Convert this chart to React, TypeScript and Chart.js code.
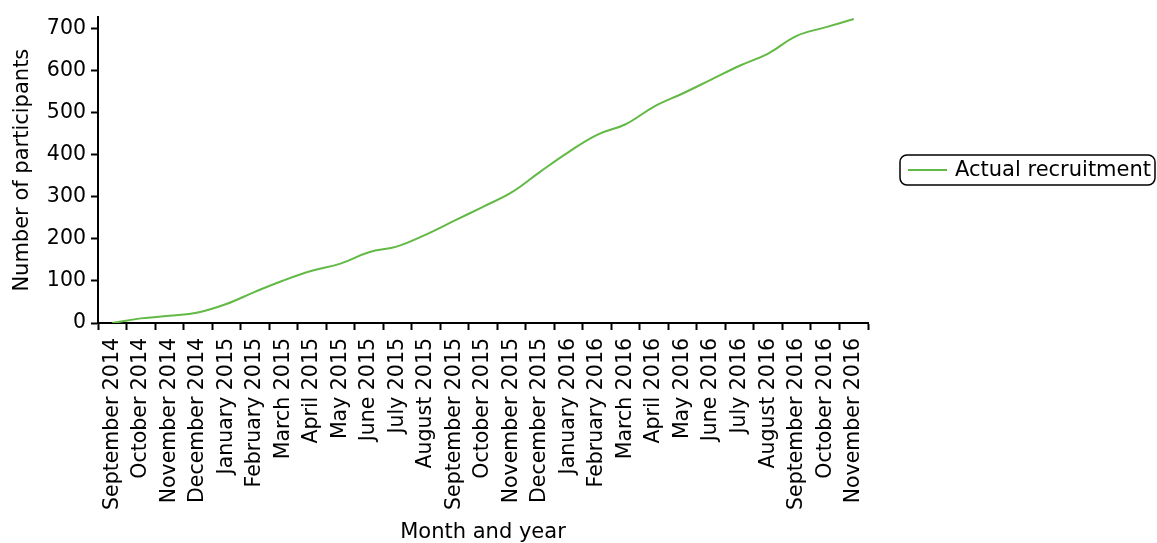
import React, { useEffect, useRef } from "react";
import { Chart, registerables } from "chart.js";

Chart.register(...registerables);

const months: string[] = [
  "September 2014", "October 2014", "November 2014", "December 2014",
  "January 2015", "February 2015", "March 2015", "April 2015", "May 2015",
  "June 2015", "July 2015", "August 2015", "September 2015", "October 2015",
  "November 2015", "December 2015", "January 2016", "February 2016",
  "March 2016", "April 2016", "May 2016", "June 2016", "July 2016",
  "August 2016", "September 2016", "October 2016", "November 2016",
];

const actualRecruitment: number[] = [
  0, 11, 17, 25, 45, 74, 101, 124, 141, 168, 182, 210, 243, 276, 310, 359,
  406, 447, 472, 514, 545, 578, 611, 640, 682, 702, 722,
];

const yTicks: number[] = [0, 100, 200, 300, 400, 500, 600, 700];

const seriesLabel = "Actual recruitment";
const xTitle = "Month and year";
const yTitle = "Number of participants";

const FONT = "'DejaVu Sans', sans-serif";
const LINE_COLOR = "#62b946";

const boxLegend = {
  id: "boxLegend",
  afterDraw(chart: any) {
    const ctx = chart.ctx;
    const ds = chart.data.datasets[0];
    ctx.save();
    const x = 900, y = 155, w = 255, h = 30, r = 7;
    ctx.beginPath();
    ctx.moveTo(x + r, y);
    ctx.lineTo(x + w - r, y);
    ctx.arcTo(x + w, y, x + w, y + r, r);
    ctx.lineTo(x + w, y + h - r);
    ctx.arcTo(x + w, y + h, x + w - r, y + h, r);
    ctx.lineTo(x + r, y + h);
    ctx.arcTo(x, y + h, x, y + h - r, r);
    ctx.lineTo(x, y + r);
    ctx.arcTo(x, y, x + r, y, r);
    ctx.closePath();
    ctx.lineWidth = 1.5;
    ctx.strokeStyle = "#000";
    ctx.stroke();
    ctx.beginPath();
    ctx.moveTo(908, y + h / 2);
    ctx.lineTo(947, y + h / 2);
    ctx.strokeStyle = ds.borderColor;
    ctx.lineWidth = 2;
    ctx.stroke();
    ctx.fillStyle = "#000";
    ctx.font = `21px ${FONT}`;
    ctx.textBaseline = "middle";
    ctx.textAlign = "left";
    ctx.fillText(ds.label, 955, y + h / 2 + 1);
    ctx.restore();
  },
};

export default function App() {
  const ref = useRef<HTMLCanvasElement | null>(null);

  useEffect(() => {
    if (!ref.current) return;
    const chart = new Chart(ref.current, {
      type: "line",
      data: {
        labels: months,
        datasets: [
          {
            label: seriesLabel,
            data: actualRecruitment,
            borderColor: LINE_COLOR,
            backgroundColor: LINE_COLOR,
            borderWidth: 2,
            pointRadius: 0,
            tension: 0.4,
            fill: false,
          },
        ],
      },
      options: {
        animation: false,
        responsive: false,
        maintainAspectRatio: false,
        layout: { padding: { top: 16, right: 289, left: 0, bottom: 0 } },
        plugins: {
          legend: { display: false },
          tooltip: { enabled: false },
        },
        scales: {
          x: {
            type: "category",
            offset: true,
            grid: {
              offset: true,
              drawOnChartArea: false,
              drawTicks: true,
              tickLength: 7,
              tickWidth: 2,
              color: "#000",
            },
            border: { display: true, color: "#000", width: 2 },
            ticks: {
              color: "#000",
              font: { family: FONT, size: 20.5 },
              minRotation: 90,
              maxRotation: 90,
              autoSkip: false,
              padding: 8,
            },
            title: {
              display: true,
              text: xTitle,
              color: "#000",
              font: { family: FONT, size: 21 },
              padding: { top: 0, bottom: -2 },
            },
            afterFit(scale: any) {
              scale.height = 220;
            },
          },
          y: {
            min: 0,
            max: 726,
            afterBuildTicks(scale: any) {
              scale.ticks = yTicks.map((v) => ({ value: v }));
            },
            grid: {
              drawOnChartArea: false,
              drawTicks: true,
              tickLength: 7,
              tickWidth: 2,
              color: "#000",
            },
            border: { display: true, color: "#000", width: 2 },
            ticks: {
              color: "#000",
              font: { family: FONT, size: 20.5 },
              padding: 5,
            },
            title: {
              display: true,
              text: yTitle,
              color: "#000",
              font: { family: FONT, size: 21 },
              padding: { top: 10, bottom: 4 },
            },
            afterFit(scale: any) {
              scale.width = 98;
            },
          },
        },
      },
      plugins: [boxLegend],
    });
    return () => chart.destroy();
  }, []);

  return (
    <div style={{ position: "absolute", left: 0, top: 0, width: 1157, height: 543, background: "#fff" }}>
      <canvas ref={ref} width={1157} height={543} style={{ width: 1157, height: 543, display: "block" }} />
    </div>
  );
}
